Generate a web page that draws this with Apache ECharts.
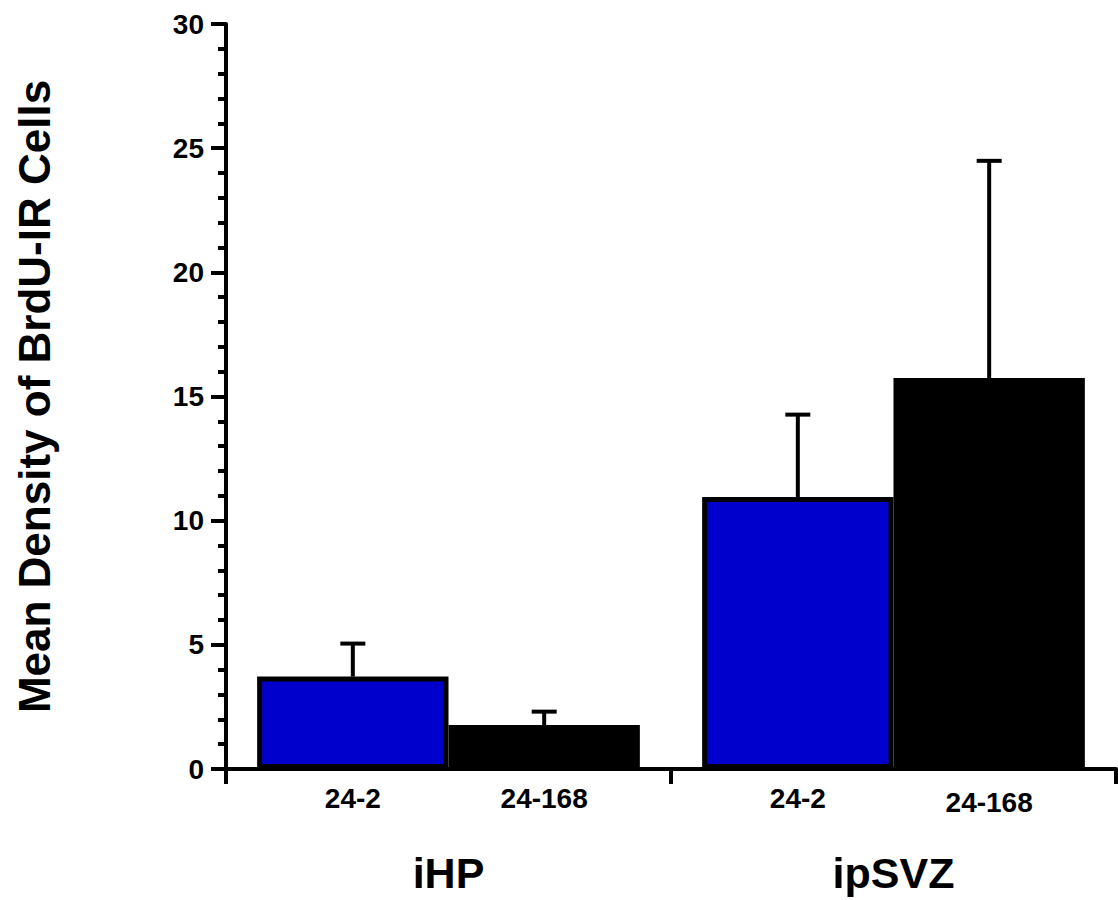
<!DOCTYPE html>
<html>
<head>
<meta charset="utf-8">
<script src="https://cdn.jsdelivr.net/npm/echarts@6/dist/echarts.min.js"></script>
<style>
  html, body { margin: 0; padding: 0; background: #fff; }
  #chart { width: 1118px; height: 900px; }
</style>
</head>
<body>
<div id="chart"></div>
<script>
// data
var groups = ['iHP', 'ipSVZ'];
var times = ['24-2', '24-168'];
var mean242 = [3.72, 10.95];
var mean24168 = [1.77, 15.75];
var err242 = [1.33, 3.32];
var err24168 = [0.54, 8.74];
var yTicks = [0, 5, 10, 15, 20, 25, 30];

var FONT = '"Liberation Sans", Arial, sans-serif';
var GAP = 0.14;

var chart = echarts.init(document.getElementById('chart'), null, { renderer: 'svg' });

// error bar data: [category index, mean, mean + error, side]
function errData(means, errs, side) {
    var out = [];
    for (var i = 0; i < means.length; i++) {
        out.push([i, means[i], means[i] + errs[i], side]);
    }
    return out;
}

function renderErr(params, api) {
    var cat = api.value(0);
    var base = api.coord([cat, api.value(1)]);
    var top = api.coord([cat, api.value(2)]);
    var band = api.size([1, 0])[0];
    var bw = band * (1 - GAP) / 2;
    var x = base[0] + (api.value(3) === 0 ? -bw / 2 : bw / 2);
    var st = { stroke: '#000', lineWidth: 4 };
    return {
        type: 'group',
        children: [
            { type: 'line', shape: { x1: x, y1: base[1], x2: x, y2: top[1] }, style: st },
            { type: 'line', shape: { x1: x - 12.5, y1: top[1], x2: x + 12.5, y2: top[1] }, style: st }
        ]
    };
}

function subLabel(dy) {
    return {
        show: true,
        position: 'bottom',
        distance: 5,
        offset: [0, dy],
        formatter: '{a}',
        color: '#000',
        fontFamily: FONT,
        fontWeight: 'bold',
        fontSize: 28
    };
}

var option = {
    animation: false,
    backgroundColor: '#fff',
    grid: { left: 226, right: 2, top: 24, bottom: 131, containLabel: false },
    xAxis: {
        type: 'category',
        data: groups,
        axisLine: { lineStyle: { color: '#000', width: 4 } },
        axisTick: { show: true, length: 15, lineStyle: { color: '#000', width: 4 } },
        axisLabel: {
            color: '#000', fontFamily: FONT, fontWeight: 'bold', fontSize: 43, margin: 82
        },
        splitLine: { show: false }
    },
    yAxis: {
        type: 'value',
        min: yTicks[0],
        max: yTicks[yTicks.length - 1],
        interval: 5,
        name: 'Mean Density of BrdU-IR Cells',
        nameLocation: 'middle',
        nameGap: 170,
        nameTextStyle: { color: '#000', fontFamily: FONT, fontWeight: 'bold', fontSize: 44 },
        axisLine: { show: true, lineStyle: { color: '#000', width: 4 } },
        axisTick: { show: true, length: 15, lineStyle: { color: '#000', width: 4 } },
        minorTick: { show: true, splitNumber: 5, length: 8, lineStyle: { color: '#000', width: 4 } },
        axisLabel: { color: '#000', fontFamily: FONT, fontWeight: 'bold', fontSize: 28, margin: 22 },
        splitLine: { show: false }
    },
    series: [
        {
            name: times[0],
            type: 'bar',
            data: mean242,
            barGap: '0%',
            barCategoryGap: (GAP * 100) + '%',
            itemStyle: { color: '#0000cc', borderColor: '#000', borderWidth: 5 },
            label: subLabel(10)
        },
        {
            name: times[1],
            type: 'bar',
            data: [mean24168[0], { value: mean24168[1], label: subLabel(14) }],
            itemStyle: { color: '#000', borderColor: '#000', borderWidth: 5 },
            label: subLabel(10)
        },
        {
            type: 'custom',
            renderItem: renderErr,
            data: errData(mean242, err242, 0),
            z: 1
        },
        {
            type: 'custom',
            renderItem: renderErr,
            data: errData(mean24168, err24168, 1),
            z: 1
        }
    ]
};

chart.setOption(option);
</script>
</body>
</html>
